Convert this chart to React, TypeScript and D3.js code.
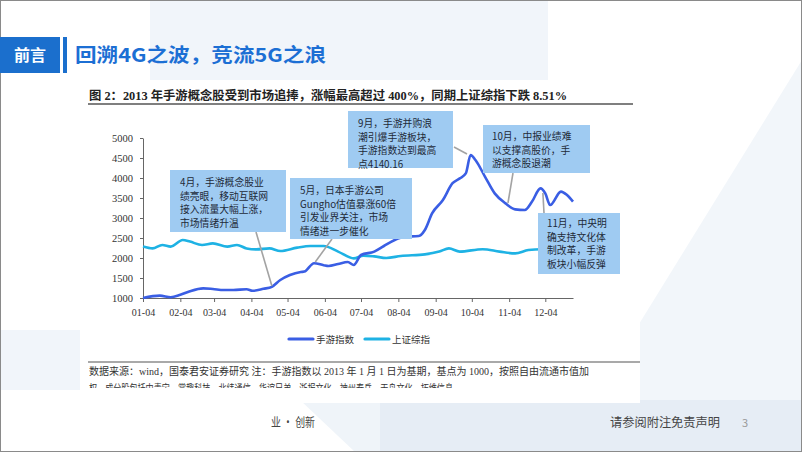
import React, { useRef, useEffect } from "react";
import * as d3 from "d3";

// 手游指数 (mobile game index)
const gameDates = [
    "2013-01-04", "2013-01-18", "2013-01-27", "2013-02-04", "2013-02-12", "2013-02-23",
    "2013-03-03", "2013-03-12", "2013-03-20", "2013-03-31", "2013-04-05", "2013-04-14",
    "2013-04-21", "2013-04-28", "2013-05-06", "2013-05-15", "2013-05-18", "2013-05-26",
    "2013-06-03", "2013-06-07", "2013-06-15", "2013-06-23", "2013-06-28", "2013-07-04",
    "2013-07-15", "2013-07-23", "2013-08-01", "2013-08-09", "2013-08-21", "2013-08-26",
    "2013-09-01", "2013-09-10", "2013-09-18", "2013-09-24", "2013-09-29", "2013-10-03",
    "2013-10-07", "2013-10-15", "2013-10-23", "2013-11-01", "2013-11-09", "2013-11-17",
    "2013-11-23", "2013-11-30", "2013-12-04", "2013-12-08", "2013-12-17", "2013-12-22",
    "2013-12-27"
];
const gameValues = [
    1000, 1060, 1020, 1080, 1170, 1240,
    1225, 1200, 1200, 1220, 1180, 1230,
    1280, 1450, 1575, 1650, 1660, 1870,
    1820, 1800, 1850, 1900, 1825, 2075,
    2160, 2300, 2450, 2530, 2550, 2700,
    3115, 3450, 3870, 3990, 4115, 4575,
    4450, 4030, 3615, 3365, 3215, 3200,
    3410, 3740, 3615, 3325, 3660, 3575,
    3410
];

// 上证综指 (Shanghai composite)
const shDates = [
    "2013-01-04", "2013-01-12", "2013-01-20", "2013-01-27", "2013-02-06", "2013-02-12",
    "2013-02-22", "2013-03-03", "2013-03-15", "2013-03-23", "2013-03-31", "2013-04-08",
    "2013-04-19", "2013-04-28", "2013-05-12", "2013-05-23", "2013-06-03", "2013-06-15",
    "2013-06-28", "2013-07-06", "2013-07-15", "2013-07-25", "2013-08-06", "2013-08-26",
    "2013-09-07", "2013-09-15", "2013-09-24", "2013-10-13", "2013-10-27", "2013-11-09",
    "2013-11-20", "2013-12-01", "2013-12-15", "2013-12-27"
];
const shValues = [
    2285, 2240, 2325, 2285, 2450, 2410,
    2325, 2365, 2285, 2325, 2240, 2215,
    2240, 2175, 2260, 2300, 2300, 2160,
    1990, 2060, 2040, 2000, 2050, 2090,
    2160, 2240, 2160, 2220, 2160, 2115,
    2200, 2220, 2200, 2150
];

const yTicks = [1000, 1500, 2000, 2500, 3000, 3500, 4000, 4500, 5000];
const xTickMonths = ["01", "02", "03", "04", "05", "06", "07", "08", "09", "10", "11", "12"];
const seriesNames = ["手游指数", "上证综指"];

const notes = [
    { lines: ["4月，手游概念股业", "绩亮眼，移动互联网", "接入流量大幅上涨，", "市场情绪升温"], tip: ["2013-04-21", 1300] },
    { lines: ["5月，日本手游公司", "Gungho估值暴涨60倍", "引发业界关注，市场", "情绪进一步催化"], tip: ["2013-05-27", 1900] },
    { lines: ["9月，手游并购浪", "潮引爆手游板块，", "手游指数达到最高", "点4140.16"], tip: ["2013-09-30", 4600] },
    { lines: ["10月，中报业绩难", "以支撑高股价，手", "游概念股退潮"], tip: ["2013-11-03", 3375] },
    { lines: ["11月，中央明", "确支持文化体", "制改革，手游", "板块小幅反弹"], tip: ["2013-12-02", 3625] }
];

// box layout for each note: x, y, w, h, text x, first line y, pointer start
const noteBoxes = [
    { x: 170, y: 170, w: 116, h: 62, tx: 180, ty: 186, px: 256, py: 232 },
    { x: 290, y: 178, w: 122, h: 61, tx: 300, ty: 194, px: 332, py: 239 },
    { x: 348, y: 111, w: 105, h: 57, tx: 358, ty: 127, px: 454, py: 147 },
    { x: 483, y: 125, w: 107, h: 48, tx: 492, ty: 140, px: 513, py: 173 },
    { x: 538, y: 213, w: 82, h: 61, tx: 547, ty: 227, px: 544, py: 213 }
];

const BLUE = "#3a5ee4";
const CYAN = "#1eb2e4";
const CJK = "'Noto Sans CJK SC', sans-serif";
const SERIF = "'Liberation Serif', 'Noto Sans CJK SC', serif";

const App = () => {
    const svgRef = useRef(null);

    useEffect(() => {
        if (!svgRef.current) return;
        const svg = d3.select(svgRef.current);
        svg.selectAll("*").remove();

        const parse = d3.timeParse("%Y-%m-%d");

        // page background & decoration
        svg.append("rect").attr("width", 802).attr("height", 452).attr("fill", "#ffffff");
        svg.append("rect").attr("x", 150).attr("y", 0).attr("width", 398).attr("height", 80).attr("fill", "#f1f5fa");
        svg.append("polygon").attr("points", "802,60 560,452 802,452").attr("fill", "#f2f6fa");
        svg.append("polygon").attr("points", "300,400 355,452 802,452 802,400").attr("fill", "#eff4f9");
        svg.append("rect").attr("x", 380).attr("y", 400).attr("width", 422).attr("height", 52).attr("fill", "#e6edf5");
        svg.append("rect").attr("x", 0).attr("y", 330).attr("width", 80).attr("height", 60).attr("fill", "#f1f5fa");
        svg.append("rect").attr("x", 80).attr("y", 80).attr("width", 560).attr("height", 323).attr("fill", "#ffffff");
        svg.append("rect").attr("x", 0.5).attr("y", 0.5).attr("width", 801).attr("height", 451)
            .attr("fill", "none").attr("stroke", "#8a8a8a").attr("stroke-width", 1);

        // header
        svg.append("rect").attr("x", 0).attr("y", 37).attr("width", 60).attr("height", 36).attr("fill", "#1b6fcd");
        svg.append("text").attr("x", 30).attr("y", 61).attr("text-anchor", "middle")
            .style("font-family", CJK).style("font-size", "16px").style("font-weight", "bold")
            .attr("fill", "#ffffff").text("前言");
        svg.append("rect").attr("x", 63).attr("y", 37).attr("width", 4).attr("height", 36).attr("fill", "#1b6fcd");
        svg.append("text").attr("x", 75).attr("y", 62)
            .attr("textLength", 251).attr("lengthAdjust", "spacingAndGlyphs")
            .style("font-family", CJK).style("font-size", "19px").style("font-weight", "bold")
            .attr("fill", "#1c6fd4").text("回溯4G之波，竞流5G之浪");

        // caption
        svg.append("text").attr("x", 89).attr("y", 100)
            .attr("textLength", 478).attr("lengthAdjust", "spacingAndGlyphs")
            .style("font-family", SERIF).style("font-size", "12px").style("font-weight", "bold")
            .attr("fill", "#222").text("图 2：2013 年手游概念股受到市场追捧，涨幅最高超过 400%，同期上证综指下跌 8.51%");
        svg.append("line").attr("x1", 88).attr("x2", 633).attr("y1", 104).attr("y2", 104)
            .attr("stroke", "#555").attr("stroke-width", 1.5);

        // scales
        const x = d3.scaleTime()
            .domain([parse("2013-01-04"), parse("2013-12-27")])
            .range([143, 573]);
        const y = d3.scaleLinear().domain([1000, 5000]).range([298, 138]);

        // axes
        const xAxis = svg.append("g")
            .attr("transform", "translate(0,298)")
            .call(d3.axisBottom(x)
                .tickValues(xTickMonths.map(m => parse(`2013-${m}-04`)))
                .tickFormat(d3.timeFormat("%m-%d"))
                .tickSizeInner(4).tickSizeOuter(0));
        xAxis.selectAll("path").attr("stroke", "#666");
        xAxis.selectAll("line").attr("stroke", "#666");
        xAxis.selectAll("text").attr("fill", "#333").attr("dy", "1.1em")
            .style("font-family", SERIF).style("font-size", "10px");

        const yAxis = svg.append("g")
            .attr("transform", "translate(143,0)")
            .call(d3.axisLeft(y).tickValues(yTicks).tickFormat(d3.format("d"))
                .tickSizeInner(3).tickSizeOuter(0));
        yAxis.selectAll("path").attr("stroke", "#666");
        yAxis.selectAll("line").attr("stroke", "#666");
        yAxis.selectAll("text").attr("fill", "#333").attr("x", -10)
            .style("font-family", SERIF).style("font-size", "10.5px");

        // lines
        const line = d3.line()
            .x(d => x(d[0]))
            .y(d => y(d[1]))
            .curve(d3.curveMonotoneX);

        const shData = shDates.map((d, i) => [parse(d), shValues[i]]);
        const gameData = gameDates.map((d, i) => [parse(d), gameValues[i]]);

        svg.append("path").datum(shData)
            .attr("fill", "none").attr("stroke", CYAN).attr("stroke-width", 2.6)
            .attr("stroke-linejoin", "round").attr("d", line);
        svg.append("path").datum(gameData)
            .attr("fill", "none").attr("stroke", BLUE).attr("stroke-width", 2.6)
            .attr("stroke-linejoin", "round").attr("d", line);

        // annotations
        notes.forEach((n, i) => {
            const b = noteBoxes[i];
            svg.append("line")
                .attr("x1", b.px).attr("y1", b.py)
                .attr("x2", x(parse(n.tip[0]))).attr("y2", y(n.tip[1]))
                .attr("stroke", "#a3a3a3").attr("stroke-width", 1.6);
            svg.append("rect").attr("x", b.x).attr("y", b.y).attr("width", b.w).attr("height", b.h)
                .attr("fill", "#9fcbf2");
            const t = svg.append("text").attr("x", b.tx).attr("y", b.ty)
                .style("font-family", CJK).style("font-size", "9.8px").attr("fill", "#1e2a38");
            n.lines.forEach((l, j) => {
                t.append("tspan").attr("x", b.tx).attr("y", b.ty + j * 13.7).text(l);
            });
        });

        // legend
        const legend = svg.selectAll(".legend")
            .data(seriesNames)
            .enter().append("g")
            .attr("class", "legend")
            .attr("transform", (d, i) => `translate(${289 + i * 76},339)`);
        legend.append("line").attr("x1", 0).attr("x2", 24).attr("y1", 0).attr("y2", 0)
            .attr("stroke", (d, i) => i === 0 ? BLUE : CYAN)
            .attr("stroke-width", 3.2).attr("stroke-linecap", "round");
        legend.append("text").attr("x", 27).attr("y", 3.5)
            .style("font-family", CJK).style("font-size", "9.5px").attr("fill", "#333")
            .text(d => d);

        // source
        svg.append("line").attr("x1", 88).attr("x2", 640).attr("y1", 362).attr("y2", 362)
            .attr("stroke", "#555").attr("stroke-width", 1.2);
        svg.append("text").attr("x", 89).attr("y", 375)
            .attr("textLength", 500).attr("lengthAdjust", "spacingAndGlyphs")
            .style("font-family", SERIF).style("font-size", "10px").attr("fill", "#333")
            .text("数据来源：wind，国泰君安证券研究  注：手游指数以 2013 年 1 月 1 日为基期，基点为 1000，按照自由流通市值加");
        svg.append("clipPath").attr("id", "srcClip")
            .append("rect").attr("x", 80).attr("y", 378).attr("width", 560).attr("height", 10);
        svg.append("text").attr("x", 89).attr("y", 392)
            .attr("clip-path", "url(#srcClip)")
            .attr("textLength", 364).attr("lengthAdjust", "spacingAndGlyphs")
            .style("font-family", SERIF).style("font-size", "10px").attr("fill", "#333")
            .text("权，成分股包括中青宝、掌趣科技、北纬通信、华谊兄弟、浙报文化、神州泰岳、天舟文化、拓维信息");

        // footer
        svg.append("text").attr("x", 271).attr("y", 427)
            .attr("textLength", 44).attr("lengthAdjust", "spacingAndGlyphs")
            .style("font-family", CJK).style("font-size", "12.5px").attr("fill", "#444")
            .text("业 · 创新");
        svg.append("text").attr("x", 610).attr("y", 427)
            .attr("textLength", 110).attr("lengthAdjust", "spacingAndGlyphs")
            .style("font-family", CJK).style("font-size", "12.5px").attr("fill", "#444")
            .text("请参阅附注免责声明");
        svg.append("text").attr("x", 742).attr("y", 427)
            .style("font-family", CJK).style("font-size", "11px").attr("fill", "#999")
            .text("3");
    }, []);

    return (
        <div style={{ position: "fixed", left: 0, top: 0 }}>
            <svg ref={svgRef} width={802} height={452} style={{ display: "block" }}></svg>
        </div>
    );
};

export default App;
